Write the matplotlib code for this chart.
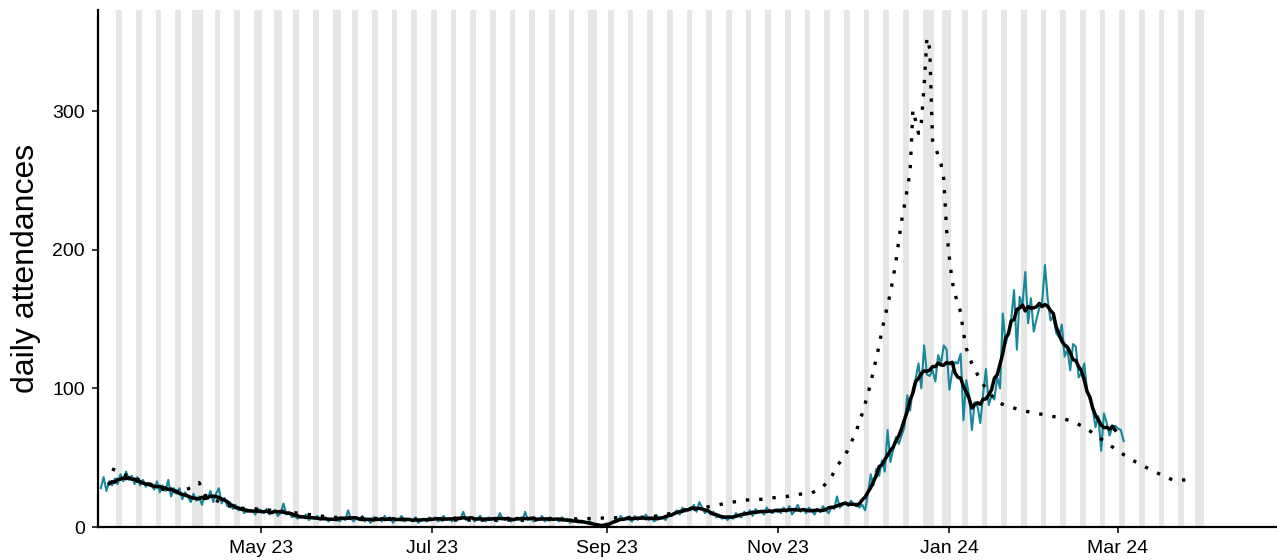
"""Daily attendances with weekend / bank holiday shading.

Teal = daily counts, black = centred 7-day mean, dotted = last season.
"""

import matplotlib
matplotlib.use("Agg")
import matplotlib.pyplot as plt
import matplotlib.dates as mdates
import pandas as pd

# daily counts from 2023-03-05, one list per month
mar23 = [28, 36, 26, 33, 30, 35, 31, 38, 33, 40, 34, 37, 31, 36, 30, 34, 29, 32,
         30, 27, 33, 25, 30, 26, 34, 22, 28]
apr23 = [24, 28, 20, 25, 22, 18, 24, 19, 22, 16, 23, 20, 26, 18, 24, 28, 17, 21,
         15, 18, 13, 16, 12, 14, 10, 13, 11, 12, 9, 13]
may23 = [12, 10, 13, 9, 11, 12, 8, 10, 17, 9, 11, 7, 9, 6, 8, 7, 9, 5, 7, 6, 8,
         5, 6, 7, 4, 6, 5, 7, 4, 6, 5]
jun23 = [12, 6, 4, 7, 5, 8, 4, 6, 3, 7, 5, 6, 4, 8, 5, 7, 3, 6, 5, 8, 4, 5, 6,
         4, 7, 3, 5, 6, 4, 7]
jul23 = [5, 7, 4, 6, 8, 5, 6, 4, 7, 5, 6, 11, 5, 6, 7, 4, 6, 8, 5, 4, 7, 5, 6,
         4, 10, 6, 5, 7, 4, 6, 5]
aug23 = [6, 4, 11, 5, 7, 4, 6, 5, 8, 4, 6, 7, 5, 6, 4, 7, 5, 6, 3, 5, 4, 5, 3,
         4, 3, 4, 2, 1, 2, 0, 1]
sep23 = [0, 2, 3, 5, 4, 8, 5, 7, 6, 4, 8, 5, 7, 6, 9, 5, 6, 4, 8, 6, 7, 5, 9,
         8, 10, 12, 9, 14, 11, 13]
oct23 = [12, 16, 11, 18, 14, 10, 13, 9, 11, 7, 9, 6, 8, 5, 7, 6, 10, 8, 7, 11,
         9, 12, 8, 13, 10, 12, 9, 14, 11, 10, 12]
nov23 = [13, 10, 14, 11, 15, 9, 12, 16, 11, 13, 10, 14, 12, 9, 13, 11, 15, 12,
         10, 14, 13, 22, 14, 16, 18, 15, 19, 16, 17, 14]
dec23 = [16, 12, 24, 38, 30, 42, 37, 48, 40, 70, 47, 56, 65, 60, 66, 72, 95, 84,
         100, 107, 118, 100, 131, 110, 109, 113, 105, 124, 118, 131, 128]
jan24 = [99, 112, 119, 118, 125, 77, 106, 95, 70, 90, 87, 75, 96, 114, 88, 95,
         92, 108, 100, 154, 132, 140, 150, 171, 128, 166, 160, 184, 147, 165, 141]
feb24 = [150, 158, 162, 189, 164, 149, 152, 140, 137, 146, 123, 128, 113, 132,
         130, 108, 111, 118, 98, 92, 85, 72, 80, 55, 82, 75, 66, 72, 73]
mar24 = [71, 70, 62]
daily_start = "2023-03-05"

# last season, drawn dotted
prev_dates = [
    "2023-03-09", "2023-03-13", "2023-03-22", "2023-03-26", "2023-03-30",
    "2023-04-03", "2023-04-07", "2023-04-09", "2023-04-11", "2023-04-19",
    "2023-04-23", "2023-04-27", "2023-05-02", "2023-05-08", "2023-05-26",
    "2023-06-15", "2023-07-10", "2023-08-05", "2023-08-25", "2023-08-31",
    "2023-09-14", "2023-09-19", "2023-10-07", "2023-10-12", "2023-10-16",
    "2023-10-21", "2023-10-26", "2023-10-30", "2023-11-04", "2023-11-08",
    "2023-11-13", "2023-11-17", "2023-11-20", "2023-11-22", "2023-11-25",
    "2023-11-27", "2023-11-28", "2023-11-29", "2023-11-30", "2023-12-01",
    "2023-12-02", "2023-12-03", "2023-12-04", "2023-12-05", "2023-12-06",
    "2023-12-07", "2023-12-08", "2023-12-09", "2023-12-10", "2023-12-11",
    "2023-12-12", "2023-12-13", "2023-12-14", "2023-12-15", "2023-12-16",
    "2023-12-17", "2023-12-18", "2023-12-19", "2023-12-20", "2023-12-21",
    "2023-12-22", "2023-12-23", "2023-12-24", "2023-12-25", "2023-12-26",
    "2023-12-27", "2023-12-28", "2023-12-29", "2023-12-30", "2023-12-31",
    "2024-01-01", "2024-01-02", "2024-01-03", "2024-01-04", "2024-01-05",
    "2024-01-06", "2024-01-07", "2024-01-08", "2024-01-09", "2024-01-10",
    "2024-01-11", "2024-01-12", "2024-01-13", "2024-01-14", "2024-01-15",
    "2024-01-16", "2024-01-18", "2024-01-22", "2024-01-27", "2024-02-01",
    "2024-02-05", "2024-02-10", "2024-02-14", "2024-02-18", "2024-02-22",
    "2024-02-26", "2024-03-01", "2024-03-05", "2024-03-09", "2024-03-13",
    "2024-03-17", "2024-03-21", "2024-03-25", "2024-03-28",
]
prev_vals = [
    42, 38, 31.5, 28, 25,
    26, 29, 32, 23, 15.5,
    13.5, 13.5, 12.5, 11.5, 7,
    6, 5, 5, 6, 6.5,
    7, 8, 14.5, 16.5, 18,
    19.5, 20, 21, 22, 23.5,
    24.5, 29, 36, 44, 52,
    61, 65, 70, 76, 82,
    89, 96, 104, 113, 122,
    131, 142, 151, 160, 169,
    180, 192, 207, 221, 232,
    244, 256, 301, 293, 284,
    292, 318, 353, 345, 279,
    274, 268, 262, 251, 214,
    194, 177, 168, 161, 155,
    140, 129, 123, 118, 114,
    110, 106, 103, 100, 97,
    95, 90, 87, 84, 82,
    80.5, 78.5, 76, 72, 66.5,
    60.5, 55, 49.5, 45, 41,
    37, 33.5, 34, 36,
]

bank_holidays = ["2023-04-07", "2023-04-10", "2023-05-01", "2023-05-08",
                 "2023-05-29", "2023-08-28", "2023-12-25", "2023-12-26",
                 "2024-01-01", "2024-03-29"]
shade_from, shade_to = "2023-03-06", "2024-03-31"

y_ticks = [0, 100, 200, 300]
x_ticks = ["2023-05-01", "2023-07-01", "2023-09-01", "2023-11-01",
           "2024-01-01", "2024-03-01"]

TEAL = "#17879c"
SHADE = "#e6e6e6"


def off_day_spans():
    days = pd.date_range(shade_from, shade_to, freq="D")
    hols = set(pd.to_datetime(bank_holidays))
    off = [d for d in days if d.dayofweek >= 5 or d in hols]
    spans = []
    for d in off:
        if spans and (d - spans[-1][1]).days == 1:
            spans[-1][1] = d
        else:
            spans.append([d, d])
    return spans


def main():
    plt.rcParams["font.family"] = ["Liberation Sans", "DejaVu Sans"]

    values = (mar23 + apr23 + may23 + jun23 + jul23 + aug23 + sep23 + oct23
              + nov23 + dec23 + jan24 + feb24 + mar24)
    daily = pd.Series(values, index=pd.date_range(daily_start, periods=len(values)),
                      dtype=float)
    smooth = daily.rolling(7, center=True).mean()
    prev = pd.Series(prev_vals, index=pd.to_datetime(prev_dates))

    fig = plt.figure(figsize=(12.77, 5.6), dpi=100)
    ax = fig.add_axes([98 / 1277, 33 / 560, 1179 / 1277, 517 / 560])

    half = pd.Timedelta(hours=12)
    for start, end in off_day_spans():
        ax.axvspan(start - half, end + half, color=SHADE, lw=0, zorder=0)

    ax.plot(daily.index, daily.values, color=TEAL, lw=1.5, zorder=2)
    ax.plot(smooth.index, smooth.values, color="black", lw=2.5, zorder=3)
    ax.plot(prev.index, prev.values, color="black", lw=2.4,
            linestyle=(0, (1, 3)), dash_capstyle="butt", zorder=4)

    ax.set_xlim(pd.Timestamp("2023-03-04"), pd.Timestamp("2024-04-26 14:00"))
    ax.set_ylim(0, 373)
    ax.set_yticks(y_ticks)
    ax.set_xticks(pd.to_datetime(x_ticks))
    ax.xaxis.set_major_formatter(mdates.DateFormatter("%b %y"))

    for side in ("top", "right"):
        ax.spines[side].set_visible(False)
    for side in ("left", "bottom"):
        ax.spines[side].set_linewidth(1.6)
        ax.spines[side].set_color("black")
    ax.tick_params(axis="both", length=4.5, width=1.4, color="#333333",
                   labelsize=14, labelcolor="black", pad=5)

    ax.set_ylabel("daily attendances", fontsize=23)
    ax.yaxis.set_label_coords(-0.048, 0.5)

    fig.savefig("out.png", dpi=100)
    plt.close(fig)


if __name__ == "__main__":
    main()
